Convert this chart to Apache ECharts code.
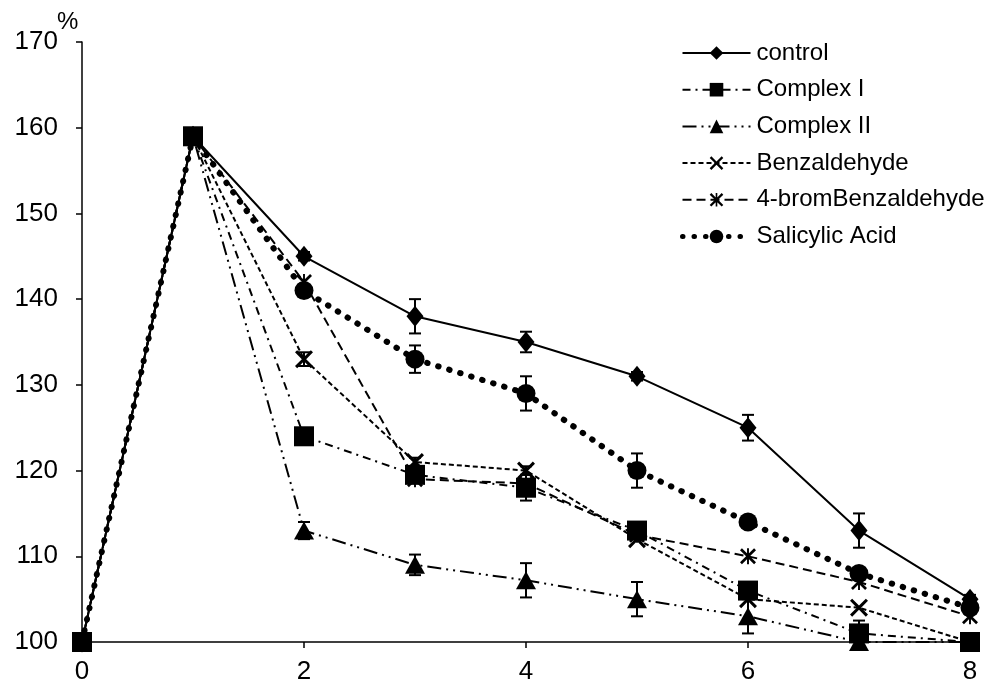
<!DOCTYPE html>
<html><head><meta charset="utf-8">
<script src="https://cdn.jsdelivr.net/npm/echarts@6/dist/echarts.min.js"></script>
<style>html,body{margin:0;padding:0;background:#fff}#c{width:987px;height:686px}</style>
</head><body><div id="c"></div>
<script>
var days = [0,1,2,3,4,5,6,7,8];
var seriesNames = ['control','Complex I','Complex II','Benzaldehyde','4-bromBenzaldehyde','Salicylic Acid'];
var control    = [100,159,145,138,135,131,125,113,105];
var complexI   = [100,159,124,119.5,118,113,106,101,100];
var complexII  = [100,159,113,109,107.2,105,103,100,100];
var benz       = [100,159,133,121,120,112,105,104,100];
var brom       = [100,159,142,119,118.5,112.5,110,107,103];
var salic      = [100,159,141,133,129,120,114,108,104];
var errControl = [0,0,0.5,2,1.2,0.5,1.5,2,0.5];
var errComplexI= [0,0,0,0.5,1.5,0.5,0,1.5,0];
var errComplexII=[0,0,1,1.2,2,2,2,0,0];
var errBenz    = [0,0,0.8,0.5,0.5,0,0,0,0];
var errBrom    = [0,0,0,0,0,0,0,0,0];
var errSalic   = [0,0,0,1.6,2,2,0.5,0.5,0];
var yTicks = [100,110,120,130,140,150,160,170];

var values = [control, complexI, complexII, benz, brom, salic];
var errs = [errControl, errComplexI, errComplexII, errBenz, errBrom, errSalic];

var crossPath = 'path://M0,1.2L1.2,0L5,3.8L8.8,0L10,1.2L6.2,5L10,8.8L8.8,10L5,6.2L1.2,10L0,8.8L3.8,5Z';
var starPath = 'path://M0,1.2L1.2,0L5,3.8L8.8,0L10,1.2L6.2,5L10,8.8L8.8,10L5,6.2L1.2,10L0,8.8L3.8,5ZM4.4,0L5.6,0L5.6,10L4.4,10Z';

var styles = [
  {symbol:'diamond', size:[17,21], dash:'solid', width:2, z:3},
  {symbol:'rect', size:20, dash:[8,5,2,5], width:2, z:8},
  {symbol:'triangle', size:[20,18], dash:[14,5,2,5,2,5], width:2, z:4},
  {symbol:crossPath, size:18, dash:[5,3], width:2, z:5},
  {symbol:starPath, size:16, dash:[9,5], width:2, z:6},
  {symbol:'circle', size:19, dash:[0.5,11], width:6, z:7}
];

function pairs(arr){ return days.map(function(d,i){ return [d, arr[i]]; }); }

var series = [];
seriesNames.forEach(function(name, k){
  var s = styles[k];
  series.push({
    name: name, type:'line', data: pairs(values[k]),
    symbol: s.symbol, symbolSize: s.size, showAllSymbol:true,
    clip:false, z: s.z,
    lineStyle:{color:'#000', width:s.width, type:s.dash, cap: k===5?'round':'butt'},
    itemStyle:{color:'#000', borderWidth:0},
    emphasis:{disabled:true}
  });
  var ed = [];
  days.forEach(function(d,i){ if (errs[k][i] > 0) ed.push([d, values[k][i]-errs[k][i], values[k][i]+errs[k][i]]); });
  if (ed.length) series.push({
    type:'custom', name: name + ' err', data: ed, clip:false, z: s.z,
    encode:{x:0, y:[1,2]},
    renderItem: function(params, api){
      var lo = api.coord([api.value(0), api.value(1)]);
      var hi = api.coord([api.value(0), api.value(2)]);
      var w = 6;
      var st = {stroke:'#000', lineWidth:2};
      return {type:'group', children:[
        {type:'line', shape:{x1:lo[0],y1:lo[1],x2:hi[0],y2:hi[1]}, style:st},
        {type:'line', shape:{x1:lo[0]-w,y1:lo[1],x2:lo[0]+w,y2:lo[1]}, style:st},
        {type:'line', shape:{x1:hi[0]-w,y1:hi[1],x2:hi[0]+w,y2:hi[1]}, style:st}
      ]};
    },
    silent:true
  });
});

var legendData = seriesNames.map(function(n, k){
  var s = styles[k];
  return {name:n, lineStyle:{color:'#000', width: k===5?5:2, type:s.dash, cap: k===5?'round':'butt'}};
});

var chart = echarts.init(document.getElementById('c'), null, {renderer:'canvas'});
var font = 'Arial, "Liberation Sans", sans-serif';
chart.setOption({
  animation:false,
  backgroundColor:'#fff',
  textStyle:{fontFamily:font},
  grid:{left:82, right:17, top:42, bottom:44, containLabel:false},
  xAxis:{type:'value', min:0, max:8, interval:2,
    axisLine:{lineStyle:{color:'#000', width:1.5}},
    axisTick:{show:true, length:6, lineStyle:{color:'#000', width:1.5}},
    axisLabel:{color:'#000', fontSize:26, margin:17, fontFamily:font},
    splitLine:{show:false}},
  yAxis:{type:'value', min:yTicks[0], max:yTicks[yTicks.length-1], interval:10,
    axisLine:{show:true, lineStyle:{color:'#000', width:1.5}},
    axisTick:{show:true, length:6, lineStyle:{color:'#000', width:1.5}},
    axisLabel:{color:'#000', fontSize:26, margin:24, fontFamily:font},
    splitLine:{show:false}},
  legend:{
    orient:'vertical', left:680, top:41, padding:0,
    data: legendData,
    itemWidth:68, itemHeight:17, itemGap:12.7,
    textStyle:{color:'#000', fontSize:24, lineHeight:24, fontFamily:font, padding:[0,0,0,1]},
    selectedMode:false
  },
  graphic:[{type:'text', left:57, top:10, style:{text:'%', fontSize:24, fill:'#000', fontFamily:font}}],
  series: series
});
</script></body></html>
